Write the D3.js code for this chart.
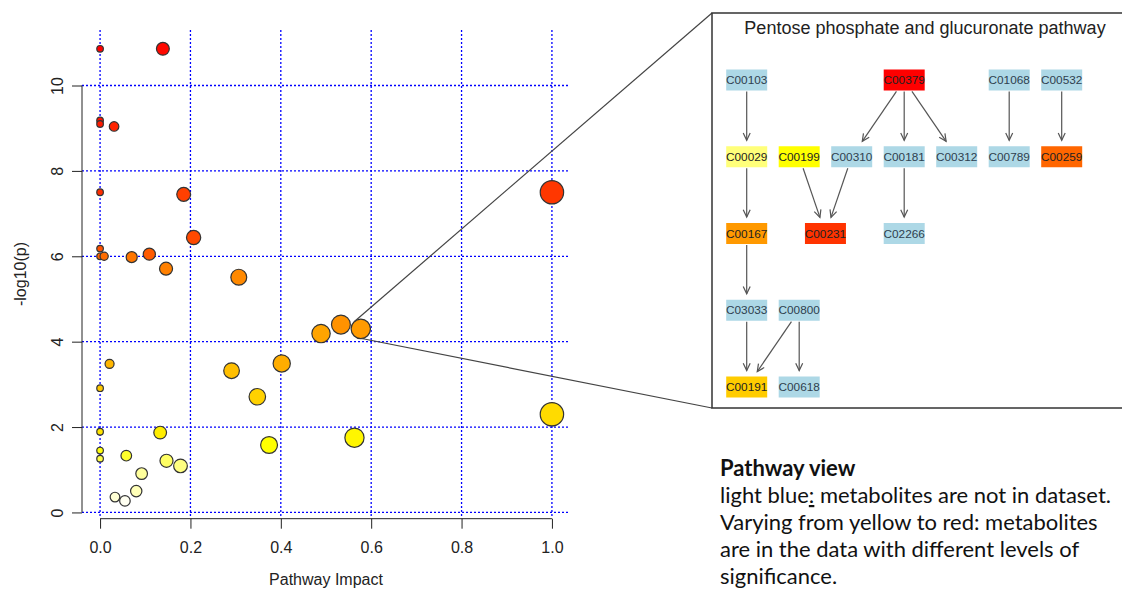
<!DOCTYPE html>
<html lang="en">
<head>
    <meta charset="UTF-8">
    <title>Pathway impact</title>
    <script src="https://d3js.org/d3.v7.min.js"></script>
    <style>
        body {
            margin: 0;
            background-color: white;
        }
        svg text {
            font-family: "Liberation Sans", Arial, sans-serif;
        }
    </style>
</head>
<body>
    <div id="chart"></div>
    <script>
        // pathway impact vs -log10(p), one entry per pathway
        const impact = [0, 0.139, 0, 0, 0.031, 0, 0.185, 1.0, 0.207, 0, 0, 0.009, 0.07, 0.109, 0.146, 0.307,
            0.533, 0.577, 0.489, 0.402, 0.021, 0.291, 0, 0.348, 1.0, 0, 0.133, 0.563, 0.374, 0, 0.058, 0,
            0.147, 0.178, 0.092, 0.080, 0.033, 0.055];
        const logP = [10.86, 10.86, 9.18, 9.10, 9.04, 7.50, 7.45, 7.50, 6.44, 6.18, 6.00, 6.00, 5.98, 6.05, 5.71, 5.51,
            4.40, 4.30, 4.19, 3.49, 3.48, 3.32, 2.91, 2.71, 2.30, 1.89, 1.87, 1.75, 1.58, 1.45, 1.33, 1.26,
            1.21, 1.09, 0.91, 0.50, 0.36, 0.27];
        const highlighted = 17; // pentose phosphate and glucuronate pathway

        const xTicks = [0, 0.2, 0.4, 0.6, 0.8, 1.0];
        const yTicks = [0, 2, 4, 6, 8, 10];

        // pathway graph: level = position on the heat scale, null = not in dataset
        const nodes = [
            { id: "C00103", row: 0, col: 0, level: null },
            { id: "C00379", row: 0, col: 3, level: 0 },
            { id: "C01068", row: 0, col: 5, level: null },
            { id: "C00532", row: 0, col: 6, level: null },
            { id: "C00029", row: 1, col: 0, level: 0.87 },
            { id: "C00199", row: 1, col: 1, level: 0.75 },
            { id: "C00310", row: 1, col: 2, level: null },
            { id: "C00181", row: 1, col: 3, level: null },
            { id: "C00312", row: 1, col: 4, level: null },
            { id: "C00789", row: 1, col: 5, level: null },
            { id: "C00259", row: 1, col: 6, level: 0.3 },
            { id: "C00167", row: 2, col: 0, level: 0.45 },
            { id: "C00231", row: 2, col: 1.5, level: 0.15 },
            { id: "C02266", row: 2, col: 3, level: null },
            { id: "C03033", row: 3, col: 0, level: null },
            { id: "C00800", row: 3, col: 1, level: null },
            { id: "C00191", row: 4, col: 0, level: 0.6 },
            { id: "C00618", row: 4, col: 1, level: null }
        ];
        const edges = [
            ["C00103", "C00029"], ["C00379", "C00310"], ["C00379", "C00181"], ["C00379", "C00312"],
            ["C01068", "C00789"], ["C00532", "C00259"], ["C00029", "C00167"], ["C00199", "C00231"],
            ["C00310", "C00231"], ["C00181", "C02266"], ["C00167", "C03033"], ["C03033", "C00191"],
            ["C00800", "C00191"], ["C00800", "C00618"]
        ];

        const noteTitle = "Pathway view";
        const noteLines = [
            ["light blue", ":", " metabolites are not in dataset."],
            ["Varying from yellow to red: metabolites"],
            ["are in the data with different levels of"],
            ["significance."]
        ];

        // yellow with saturation s (hsv h=60, v=1)
        function hsvYellow(s) {
            const b = Math.round(255 * (1 - s));
            return d3.rgb(255, 255, b).formatHex();
        }
        // same as R heat.colors(n): red -> yellow, last quarter fading to white
        function heatColors(n) {
            const j = Math.floor(n / 4), i = n - j;
            const cols = [];
            for (let k = 0; k < i; k++) cols.push(d3.hsl(60 * k / (i - 1), 1, 0.5).formatHex());
            for (let k = 0; k < j; k++) {
                const s = (1 - 1 / (2 * j)) - k * ((1 - 1 / j) / (j - 1));
                cols.push(hsvYellow(s));
            }
            return cols;
        }
        function nodeColor(level) {
            if (level === null) return "#add8e6";
            if (level <= 0.75) return d3.hsl(60 * level / 0.75, 1, 0.5).formatHex();
            return hsvYellow(1 - (level - 0.75) / 0.25);
        }

        const width = 1122, height = 590;
        const svg = d3.select("#chart").append("svg")
            .attr("width", width)
            .attr("height", height);

        svg.append("rect").attr("width", width).attr("height", height).attr("fill", "white");

        const x = d3.scaleLinear().domain([-0.04, 1.04]).range([82, 570]);
        const y = d3.scaleLinear().domain([-0.13, 11.3]).range([518, 30]);
        const r = d3.scaleSqrt().domain([0, 1]).range([3.3, 11.7]);

        // grid
        const grid = svg.append("g")
            .attr("stroke", "#0000ff")
            .attr("stroke-width", 1.3)
            .attr("stroke-dasharray", "2,2");
        grid.selectAll(".gx").data(xTicks).join("line")
            .attr("x1", d => x(d)).attr("x2", d => x(d))
            .attr("y1", y.range()[1]).attr("y2", y.range()[0]);
        grid.selectAll(".gy").data(yTicks).join("line")
            .attr("x1", x.range()[0]).attr("x2", x.range()[1])
            .attr("y1", d => y(d)).attr("y2", d => y(d));

        // axes, R style (axis line only spans the ticks)
        const yAxis = svg.append("g")
            .attr("transform", `translate(${x.range()[0]},0)`)
            .call(d3.axisLeft(y).tickValues(yTicks).tickSize(10).tickFormat(d3.format("d")));
        yAxis.select(".domain").remove();
        yAxis.append("line")
            .attr("y1", y(0)).attr("y2", y(10))
            .attr("stroke", "#222");
        yAxis.selectAll(".tick line").attr("stroke", "#222");
        yAxis.selectAll(".tick text")
            .attr("x", 0).attr("y", 0).attr("dy", "0.35em")
            .attr("transform", "translate(-25,0) rotate(-90)")
            .attr("text-anchor", "middle")
            .attr("fill", "#222")
            .style("font-size", "16px");

        const xAxis = svg.append("g")
            .attr("transform", `translate(0,518.7)`)
            .call(d3.axisBottom(x).tickValues(xTicks).tickSize(10).tickFormat(d3.format(".1f")));
        xAxis.select(".domain").remove();
        xAxis.append("line")
            .attr("x1", x(0)).attr("x2", x(1))
            .attr("stroke", "#222");
        xAxis.selectAll(".tick line").attr("stroke", "#222");
        xAxis.selectAll(".tick text")
            .attr("y", 29).attr("dy", "0.35em")
            .attr("fill", "#222")
            .style("font-size", "16px");

        svg.append("text")
            .attr("x", (x.range()[0] + x.range()[1]) / 2)
            .attr("y", 579).attr("dy", "0.35em")
            .attr("text-anchor", "middle")
            .attr("fill", "#222")
            .style("font-size", "16px")
            .text("Pathway Impact");
        svg.append("text")
            .attr("transform", `translate(20,${(y.range()[0] + y.range()[1]) / 2}) rotate(-90)`)
            .attr("dy", "0.35em")
            .attr("text-anchor", "middle")
            .attr("fill", "#222")
            .style("font-size", "16px")
            .text("-log10(p)");

        // bubbles, coloured by rank of p
        const order = d3.range(logP.length).sort((a, b) => logP[b] - logP[a]);
        const cols = heatColors(logP.length);
        const colorOf = {};
        order.forEach((idx, k) => colorOf[idx] = cols[k]);
        const drawOrder = d3.range(impact.length).sort((a, b) => impact[a] - impact[b]);

        svg.append("g").selectAll("circle").data(drawOrder).join("circle")
            .attr("cx", i => x(impact[i]))
            .attr("cy", i => y(logP[i]))
            .attr("r", i => r(impact[i]))
            .attr("fill", i => colorOf[i])
            .attr("stroke", "#333")
            .attr("stroke-width", 1.2);

        // pathway view panel
        const box = { x: 712, y: 13, w: 430, h: 395 };
        const hx = x(impact[highlighted]), hy = y(logP[highlighted]), hr = r(impact[highlighted]);
        const a1 = Math.atan2(-7.7, -6.7), a2 = Math.atan2(10.7, 1);
        svg.append("line")
            .attr("x1", hx + hr * Math.cos(a1)).attr("y1", hy + hr * Math.sin(a1))
            .attr("x2", box.x).attr("y2", box.y)
            .attr("stroke", "#444").attr("stroke-width", 1.2);
        svg.append("line")
            .attr("x1", hx + hr * Math.cos(a2)).attr("y1", hy + hr * Math.sin(a2))
            .attr("x2", box.x).attr("y2", box.y + box.h)
            .attr("stroke", "#444").attr("stroke-width", 1.2);

        svg.append("rect")
            .attr("x", box.x).attr("y", box.y)
            .attr("width", box.w).attr("height", box.h)
            .attr("fill", "white")
            .attr("stroke", "#333")
            .attr("stroke-width", 1.5);

        svg.append("text")
            .attr("x", 925).attr("y", 28).attr("dy", "0.35em")
            .attr("text-anchor", "middle")
            .attr("fill", "#222")
            .style("font-size", "18px")
            .text("Pentose phosphate and glucuronate pathway");

        const gx = d3.scaleLinear().domain([0, 6]).range([746.7, 1061.7]);
        const gy = d3.scaleLinear().domain([0, 4]).range([80, 387]);
        const nw = 41, nh = 21;
        const byId = {};
        nodes.forEach(n => byId[n.id] = n);

        const eg = svg.append("g")
            .attr("stroke", "#555")
            .attr("stroke-width", 1.2)
            .attr("fill", "none");
        edges.forEach(([s, t]) => {
            const a = byId[s], b = byId[t];
            const x1 = gx(a.col), y1 = gy(a.row), x2 = gx(b.col), y2 = gy(b.row);
            const dx = x2 - x1, dy = y2 - y1;
            const len = Math.hypot(dx, dy);
            const tc = Math.min(dx === 0 ? Infinity : (nw / 2) / Math.abs(dx), (nh / 2) / Math.abs(dy));
            const ux = dx / len, uy = dy / len;
            const sx = x1 + dx * tc + ux * 1, sy = y1 + dy * tc + uy * 1;
            const ex = x2 - dx * tc - ux * 6, ey = y2 - dy * tc - uy * 6;
            eg.append("line").attr("x1", sx).attr("y1", sy).attr("x2", ex).attr("y2", ey);
            const ang = Math.atan2(uy, ux), al = 8, aw = 0.45;
            eg.append("path")
                .attr("d", `M${ex - al * Math.cos(ang - aw)},${ey - al * Math.sin(ang - aw)}L${ex},${ey}L${ex - al * Math.cos(ang + aw)},${ey - al * Math.sin(ang + aw)}`);
        });

        const ng = svg.append("g").selectAll("g").data(nodes).join("g")
            .attr("transform", d => `translate(${gx(d.col)},${gy(d.row)})`);
        ng.append("rect")
            .attr("x", -nw / 2).attr("y", -nh / 2)
            .attr("width", nw).attr("height", nh)
            .attr("fill", d => nodeColor(d.level));
        ng.append("text")
            .attr("text-anchor", "middle")
            .attr("dy", "0.35em")
            .attr("fill", d => d.level === null ? "#2f3f4f" : "#222")
            .style("font-size", "11.8px")
            .text(d => d.id);

        // note below the panel
        const note = svg.append("g");
        const probe = note.append("text").style("font-size", "20px")
            .style("font-family", "Lato, 'Open Sans', sans-serif")
            .text(noteLines[0].join(""));
        const fs = 20 * 391 / probe.node().getComputedTextLength();
        probe.remove();

        note.append("text")
            .attr("x", 720).attr("y", 476)
            .style("font-size", fs + "px")
            .style("font-family", "Lato, 'Open Sans', sans-serif")
            .style("font-weight", "bold")
            .attr("fill", "#111")
            .text(noteTitle);
        noteLines.forEach((parts, k) => {
            const t = note.append("text")
                .attr("x", 720).attr("y", 503 + k * 27)
                .style("font-size", fs + "px")
                .style("font-family", "Lato, 'Open Sans', sans-serif")
                .attr("fill", "#111");
            parts.forEach((p, m) => {
                const ts = t.append("tspan").text(p);
                if (parts.length > 1 && m === 1) ts.style("text-decoration", "underline");
            });
        });
    </script>
</body>
</html>
